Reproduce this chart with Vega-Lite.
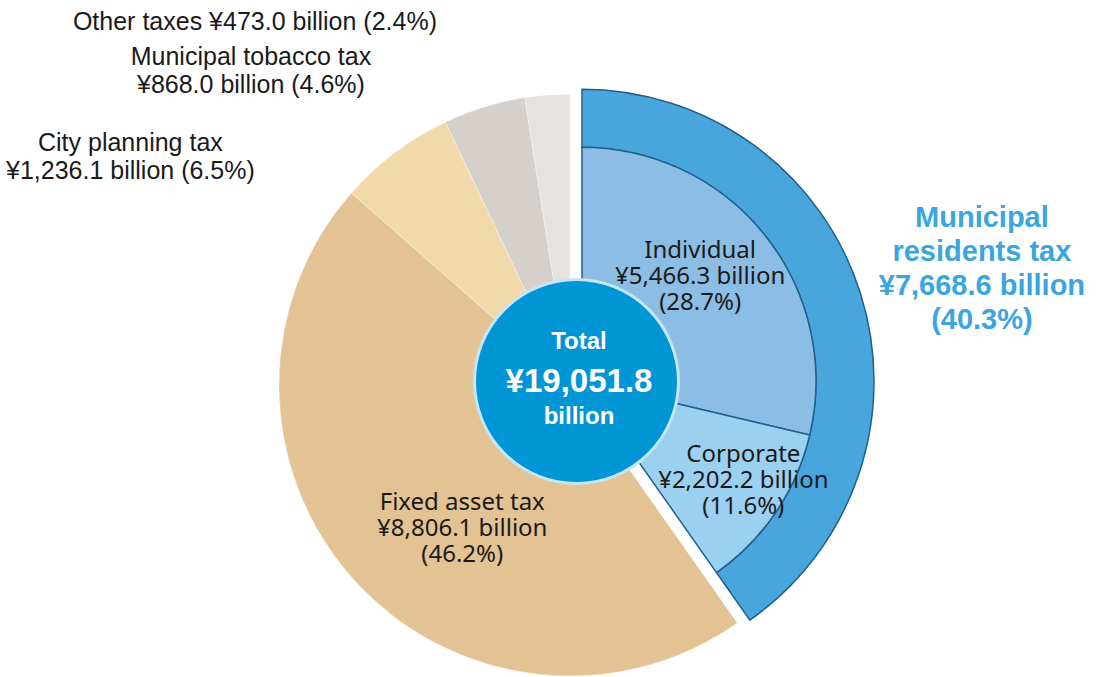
{
  "$schema": "https://vega.github.io/schema/vega-lite/v6.json",
  "width": 1066,
  "height": 584,
  "autosize": {"type": "none"},
  "padding": {"left": 37, "top": 93, "right": 0, "bottom": 0},
  "background": "white",
  "config": {"view": {"stroke": null}},
  "datasets": {
    "taxes": [
      {"name": "Municipal residents tax", "value": 7668.6, "rank": 1, "label": ["Municipal", "residents tax", "¥7,668.6 billion", "(40.3%)"]},
      {"name": "Fixed asset tax", "value": 8806.1, "rank": 2, "label": ["Fixed asset tax", "¥8,806.1 billion", "(46.2%)"]},
      {"name": "City planning tax", "value": 1236.1, "rank": 3, "label": ["City planning tax", "¥1,236.1 billion (6.5%)"]},
      {"name": "Municipal tobacco tax", "value": 868.0, "rank": 4, "label": ["Municipal tobacco tax", "¥868.0 billion (4.6%)"]},
      {"name": "Other taxes", "value": 473.0, "rank": 5, "label": "Other taxes  ¥473.0 billion (2.4%)"}
    ],
    "residents": [
      {"name": "Individual", "value": 5466.3, "rank": 1, "label": ["Individual", "¥5,466.3 billion", "(28.7%)"]},
      {"name": "Corporate", "value": 2202.2, "rank": 2, "label": ["Corporate", "¥2,202.2 billion", "(11.6%)"]}
    ],
    "total": [
      {"name": "Total", "value": 19051.8, "title": "Total", "amount": "¥19,051.8", "unit": "billion"}
    ]
  },
  "layer": [
    {
      "data": {"name": "taxes"},
      "mark": {"type": "arc", "outerRadius": 291, "stroke": "#ffffff", "strokeWidth": 0.6, "strokeOpacity": 0.6},
      "encoding": {
        "theta": {"field": "value", "type": "quantitative", "stack": true, "scale": {"domain": [0, 19051.8]}},
        "order": {"field": "rank", "type": "quantitative"},
        "color": {
          "field": "name", "type": "nominal", "legend": null,
          "scale": {
            "domain": ["Municipal residents tax", "Fixed asset tax", "City planning tax", "Municipal tobacco tax", "Other taxes", "Individual", "Corporate"],
            "range": ["#48A6DC", "#E3C293", "#F1D9A9", "#D6D0CD", "#E6E2E0", "#8CBDE4", "#9CD0F1"]
          }
        },
        "opacity": {"condition": {"test": "datum.name === 'Municipal residents tax'", "value": 0}, "value": 1}
      }
    },
    {
      "data": {"name": "taxes"},
      "mark": {"type": "arc", "outerRadius": 292, "innerRadius": 234, "xOffset": 12, "yOffset": -3.8, "stroke": "#1F5F8E", "strokeWidth": 1.5},
      "encoding": {
        "theta": {"field": "value", "type": "quantitative", "stack": true, "scale": {"domain": [0, 19051.8]}},
        "order": {"field": "rank", "type": "quantitative"},
        "color": {"field": "name", "type": "nominal", "legend": null},
        "opacity": {"condition": {"test": "datum.name !== 'Municipal residents tax'", "value": 0}, "value": 1}
      }
    },
    {
      "data": {"name": "residents"},
      "mark": {"type": "arc", "outerRadius": 234, "xOffset": 12, "yOffset": -3.8, "stroke": "#1F5F8E", "strokeWidth": 1.5},
      "encoding": {
        "theta": {"field": "value", "type": "quantitative", "stack": true, "scale": {"domain": [0, 19051.8]}},
        "order": {"field": "rank", "type": "quantitative"},
        "color": {"field": "name", "type": "nominal", "legend": null}
      }
    },
    {
      "data": {"name": "total"},
      "mark": {"type": "arc", "outerRadius": 102, "xOffset": 6.5, "yOffset": -3.5, "color": "#0095D5", "stroke": "#C5E6F6", "strokeWidth": 3},
      "encoding": {
        "theta": {"field": "value", "type": "quantitative", "stack": true, "scale": {"domain": [0, 19051.8]}}
      }
    },
    {
      "data": {"name": "taxes"},
      "mark": {"type": "text", "radius": 179, "dx": 25.5, "dy": -2, "font": "Noto Sans", "fontSize": 24, "lineHeight": 26, "align": "center", "baseline": "middle", "color": "#1a1a1a"},
      "encoding": {
        "theta": {"field": "value", "type": "quantitative", "stack": true, "scale": {"domain": [0, 19051.8]}},
        "order": {"field": "rank", "type": "quantitative"},
        "detail": {"field": "name", "type": "nominal"},
        "text": {"field": "label", "condition": {"test": "datum.name !== 'Fixed asset tax'", "value": ""}}
      }
    },
    {
      "data": {"name": "taxes"},
      "mark": {"type": "text", "radius": 290, "dx": -265, "dy": -10, "font": "Liberation Sans", "fontSize": 25, "lineHeight": 28, "align": "center", "baseline": "middle", "color": "#1a1a1a"},
      "encoding": {
        "theta": {"field": "value", "type": "quantitative", "stack": true, "scale": {"domain": [0, 19051.8]}},
        "order": {"field": "rank", "type": "quantitative"},
        "detail": {"field": "name", "type": "nominal"},
        "text": {"field": "label", "condition": {"test": "datum.name !== 'City planning tax'", "value": ""}}
      }
    },
    {
      "data": {"name": "taxes"},
      "mark": {"type": "text", "radius": 290, "dx": -233.6, "dy": -50.6, "font": "Liberation Sans", "fontSize": 25, "lineHeight": 28, "align": "center", "baseline": "middle", "color": "#1a1a1a"},
      "encoding": {
        "theta": {"field": "value", "type": "quantitative", "stack": true, "scale": {"domain": [0, 19051.8]}},
        "order": {"field": "rank", "type": "quantitative"},
        "detail": {"field": "name", "type": "nominal"},
        "text": {"field": "label", "condition": {"test": "datum.name !== 'Municipal tobacco tax'", "value": ""}}
      }
    },
    {
      "data": {"name": "taxes"},
      "mark": {"type": "text", "radius": 290, "dx": -110.4, "dy": -74, "font": "Liberation Sans", "fontSize": 25, "align": "right", "baseline": "middle", "color": "#1a1a1a"},
      "encoding": {
        "theta": {"field": "value", "type": "quantitative", "stack": true, "scale": {"domain": [0, 19051.8]}},
        "order": {"field": "rank", "type": "quantitative"},
        "detail": {"field": "name", "type": "nominal"},
        "text": {"field": "label", "condition": {"test": "datum.name !== 'Other taxes'", "value": ""}}
      }
    },
    {
      "data": {"name": "taxes"},
      "mark": {"type": "text", "radius": 292, "xOffset": 12, "yOffset": -3.8, "dx": 121.5, "dy": -75, "font": "Liberation Sans", "fontWeight": "bold", "fontSize": 29, "lineHeight": 34, "align": "center", "baseline": "middle", "color": "#3AA5DE"},
      "encoding": {
        "theta": {"field": "value", "type": "quantitative", "stack": true, "scale": {"domain": [0, 19051.8]}},
        "order": {"field": "rank", "type": "quantitative"},
        "detail": {"field": "name", "type": "nominal"},
        "text": {"field": "label", "condition": {"test": "datum.name !== 'Municipal residents tax'", "value": ""}}
      }
    },
    {
      "data": {"name": "residents"},
      "mark": {"type": "text", "radius": 157, "xOffset": 12, "yOffset": -3.8, "dx": -5, "dy": -33, "font": "Noto Sans", "fontSize": 24, "lineHeight": 26, "align": "center", "baseline": "middle", "color": "#1a1a1a"},
      "encoding": {
        "theta": {"field": "value", "type": "quantitative", "stack": true, "scale": {"domain": [0, 19051.8]}},
        "order": {"field": "rank", "type": "quantitative"},
        "detail": {"field": "name", "type": "nominal"},
        "text": {"field": "label", "condition": {"test": "datum.name !== 'Individual'", "value": ""}}
      }
    },
    {
      "data": {"name": "residents"},
      "mark": {"type": "text", "radius": 190, "xOffset": 12, "yOffset": -3.8, "dx": 4, "dy": -33, "font": "Noto Sans", "fontSize": 24, "lineHeight": 26, "align": "center", "baseline": "middle", "color": "#1a1a1a"},
      "encoding": {
        "theta": {"field": "value", "type": "quantitative", "stack": true, "scale": {"domain": [0, 19051.8]}},
        "order": {"field": "rank", "type": "quantitative"},
        "detail": {"field": "name", "type": "nominal"},
        "text": {"field": "label", "condition": {"test": "datum.name !== 'Corporate'", "value": ""}}
      }
    },
    {
      "data": {"name": "total"},
      "mark": {"type": "text", "dx": 9, "dy": -43, "font": "Liberation Sans", "fontWeight": "bold", "fontSize": 24, "align": "center", "baseline": "middle", "color": "white"},
      "encoding": {"text": {"field": "title"}}
    },
    {
      "data": {"name": "total"},
      "mark": {"type": "text", "dx": 9, "dy": -3, "font": "Liberation Sans", "fontWeight": "bold", "fontSize": 33, "align": "center", "baseline": "middle", "color": "white"},
      "encoding": {"text": {"field": "amount"}}
    },
    {
      "data": {"name": "total"},
      "mark": {"type": "text", "dx": 9, "dy": 32, "font": "Liberation Sans", "fontWeight": "bold", "fontSize": 24, "align": "center", "baseline": "middle", "color": "white"},
      "encoding": {"text": {"field": "unit"}}
    }
  ]
}
